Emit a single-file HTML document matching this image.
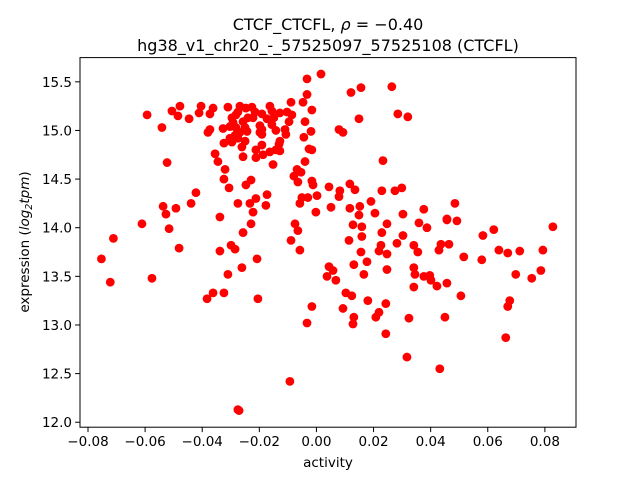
<!DOCTYPE html>
<html><head><meta charset="utf-8"><style>
html,body{margin:0;padding:0;background:#fff;}
svg{display:block;font-family:"DejaVu Sans","Liberation Sans",sans-serif;}
</style></head><body>
<svg id="chart" width="640" height="480" viewBox="0 0 640 480" xmlns="http://www.w3.org/2000/svg">
<rect x="0" y="0" width="640" height="480" fill="#fff"/>
<text x="328" y="30" font-size="16" text-anchor="middle">CTCF_CTCFL, <tspan font-style="italic">ρ</tspan> = −0.40</text>
<text x="328" y="51" font-size="16" text-anchor="middle">hg38_v1_chr20_-_57525097_57525108 (CTCFL)</text>
<g id="marks"></g>
<g id="xticks"></g>
<g id="yticks"></g>
<rect x="80" y="57.6" width="496" height="369.6" fill="none" stroke="#000" stroke-width="1"/>
<text x="328" y="467" font-size="13.5" text-anchor="middle">activity</text>
<text transform="translate(29,242) rotate(-90)" font-size="13.5" text-anchor="middle">expression (<tspan font-style="italic">log</tspan><tspan font-style="italic" font-size="9.5" dy="3">2</tspan><tspan font-style="italic" dy="-3">tpm</tspan>)</text>
</svg>
<script>
const xTicks = [-0.08,-0.06,-0.04,-0.02,0.00,0.02,0.04,0.06,0.08];
const xTickLabels = ["−0.08","−0.06","−0.04","−0.02","0.00","0.02","0.04","0.06","0.08"];
const yTicks = [12.0,12.5,13.0,13.5,14.0,14.5,15.0,15.5];
const yTickLabels = ["12.0","12.5","13.0","13.5","14.0","14.5","15.0","15.5"];
const activity = [
-0.0485,-0.0506,-0.0478,-0.0411,-0.0404,-0.0446,-0.0362,-0.0310,-0.0268,-0.0247,-0.0226,-0.0327,-0.0373,-0.0380,-0.0296,-0.0275,-0.0282,-0.0292,-0.0303,-0.0257,-0.0240,-0.0250,-0.0268,-0.0285,-0.0275,-0.0296,-0.0222,-0.0191,-0.0156,-0.0191,-0.0198,-0.0191,-0.0149,-0.0142,-0.0131,-0.0163,-0.0191,-0.0187,-0.0212,-0.0324,-0.0261,-0.0257,-0.0355,-0.0345,-0.0212,-0.0152,-0.0523,-0.0243,-0.0142,-0.0163,-0.0198,-0.0303,-0.0250,-0.0215,-0.0373,-0.0282,-0.0173,-0.0156,-0.0593,-0.0541,
0.0016,-0.0033,0.0264,0.0156,0.0121,-0.0033,-0.0047,-0.0089,-0.0016,-0.0103,-0.0086,-0.0096,-0.0040,0.0285,0.0320,0.0149,-0.0110,-0.0107,-0.0019,-0.0044,0.0079,0.0093,-0.0128,-0.0128,-0.0026,-0.0016,0.0233,-0.0040,-0.0068,-0.0054,-0.0079,-0.0065,-0.0016,-0.0012,0.0044,0.0117,0.0135,0.0082,0.0079,0.0229,0.0275,0.0299,-0.0051,-0.0030,-0.0058,0.0002,-0.0002,0.0051,0.0117,0.0152,0.0149,0.0191,0.0205,0.0303,0.0376,0.0485,0.0457,-0.0128,
-0.0320,-0.0324,-0.0306,-0.0229,-0.0247,-0.0422,-0.0439,-0.0537,-0.0527,-0.0492,-0.0611,-0.0516,-0.0481,-0.0576,-0.0338,-0.0275,-0.0233,-0.0212,-0.0173,-0.0177,-0.0222,-0.0229,-0.0257,-0.0299,-0.0285,-0.0338,-0.0208,-0.0261,-0.0310,-0.0362,-0.0383,-0.0324,-0.0205,-0.0271,-0.0275,
-0.0075,-0.0065,-0.0089,-0.0058,0.0128,0.0159,0.0247,0.0359,0.0387,0.0457,0.0492,0.0828,0.0229,0.0159,0.0114,0.0303,0.0282,0.0226,0.0219,0.0247,0.0156,0.0341,0.0355,0.0429,0.0436,0.0464,0.0583,0.0621,0.0516,0.0579,0.0639,0.0670,0.0712,0.0793,0.0044,0.0058,0.0037,0.0068,0.0131,0.0177,0.0166,0.0247,0.0341,0.0345,0.0376,0.0397,0.0401,0.0341,0.0422,0.0457,0.0506,0.0698,0.0754,0.0786,0.0103,0.0124,0.0180,0.0243,0.0219,0.0208,0.0093,-0.0016,-0.0033,0.0131,0.0128,0.0324,0.0450,0.0243,0.0677,0.0670,0.0663,0.0317,0.0432,-0.0093,
-0.0753,-0.0722,-0.0711
];
const expression = [
15.15,15.20,15.25,15.18,15.25,15.12,15.23,15.24,15.25,15.23,15.24,15.02,15.01,14.98,15.13,15.19,15.16,15.08,15.04,15.09,15.13,15.03,14.98,14.95,14.92,14.88,15.13,15.17,15.20,15.01,15.05,14.96,15.13,15.00,14.86,14.78,14.85,14.75,14.80,14.87,14.83,14.73,14.76,14.68,14.72,14.65,14.67,14.99,14.80,15.25,14.98,14.92,14.89,15.19,15.17,15.03,15.12,15.06,15.16,15.03,
15.58,15.53,15.45,15.44,15.39,15.37,15.29,15.29,15.21,15.19,15.16,15.09,15.09,15.17,15.14,15.12,15.01,14.96,14.99,14.93,15.01,14.98,14.89,14.79,14.81,14.80,14.69,14.68,14.60,14.57,14.53,14.47,14.48,14.44,14.42,14.45,14.39,14.38,14.32,14.38,14.38,14.41,14.31,14.31,14.25,14.33,14.16,14.21,14.20,14.22,14.13,14.27,14.15,14.14,14.19,14.25,14.09,15.18,
14.60,14.50,14.41,14.49,14.44,14.36,14.25,14.22,14.14,14.20,14.04,13.99,13.79,13.48,14.11,14.25,14.25,14.30,14.34,14.23,14.16,14.04,13.95,13.82,13.78,13.76,13.68,13.59,13.52,13.33,13.27,13.33,13.27,12.12,12.13,
14.04,13.97,13.87,13.77,14.03,14.01,14.04,14.05,14.00,14.08,14.07,14.01,13.95,13.91,13.87,13.92,13.84,13.82,13.76,13.73,13.75,13.82,13.75,13.77,13.83,13.83,13.92,13.98,13.70,13.67,13.77,13.74,13.76,13.77,13.60,13.56,13.50,13.46,13.62,13.65,13.52,13.57,13.59,13.52,13.50,13.51,13.46,13.39,13.40,13.43,13.30,13.52,13.48,13.56,13.33,13.30,13.25,13.22,13.13,13.08,13.17,13.19,13.02,13.08,13.01,13.07,13.08,12.91,13.25,13.19,12.87,12.67,12.55,12.42,
13.68,13.44,13.89
];
const NS = "http://www.w3.org/2000/svg";
const L=80,R=576,T=57.6,B=427.2;
const xMin=-0.0828,xMax=0.0909,yMin=11.949,yMax=15.749;
function xs(v){return L+(v-xMin)/(xMax-xMin)*(R-L);}
function ys(v){return B-(v-yMin)/(yMax-yMin)*(B-T);}
const marks=document.getElementById('marks');
for(let i=0;i<activity.length;i++){
  const c=document.createElementNS(NS,'circle');
  c.setAttribute('cx',xs(activity[i]).toFixed(2));
  c.setAttribute('cy',ys(expression[i]).toFixed(2));
  c.setAttribute('r','4.4');
  c.setAttribute('fill','#ff0000');
  
  
  marks.appendChild(c);
}
const xg=document.getElementById('xticks');
xTicks.forEach((v,i)=>{
  const x=xs(v);
  const t=document.createElementNS(NS,'line');
  t.setAttribute('x1',x);t.setAttribute('x2',x);t.setAttribute('y1',B);t.setAttribute('y2',B+4.9);
  t.setAttribute('stroke','#000');
  
  
  xg.appendChild(t);
  const s=document.createElementNS(NS,'text');
  s.setAttribute('x',x);s.setAttribute('y',B+19);
  s.setAttribute('font-size','13.5');s.setAttribute('text-anchor','middle');
  s.textContent=xTickLabels[i];
  
  
  xg.appendChild(s);
});
const yg=document.getElementById('yticks');
yTicks.forEach((v,i)=>{
  const y=ys(v);
  const t=document.createElementNS(NS,'line');
  t.setAttribute('x1',L-4.9);t.setAttribute('x2',L);t.setAttribute('y1',y);t.setAttribute('y2',y);
  t.setAttribute('stroke','#000');
  
  
  yg.appendChild(t);
  const s=document.createElementNS(NS,'text');
  s.setAttribute('x',L-8);s.setAttribute('y',y+5);
  s.setAttribute('font-size','13.5');s.setAttribute('text-anchor','end');
  s.textContent=yTickLabels[i];
  
  
  yg.appendChild(s);
});
</script>
</body></html>
